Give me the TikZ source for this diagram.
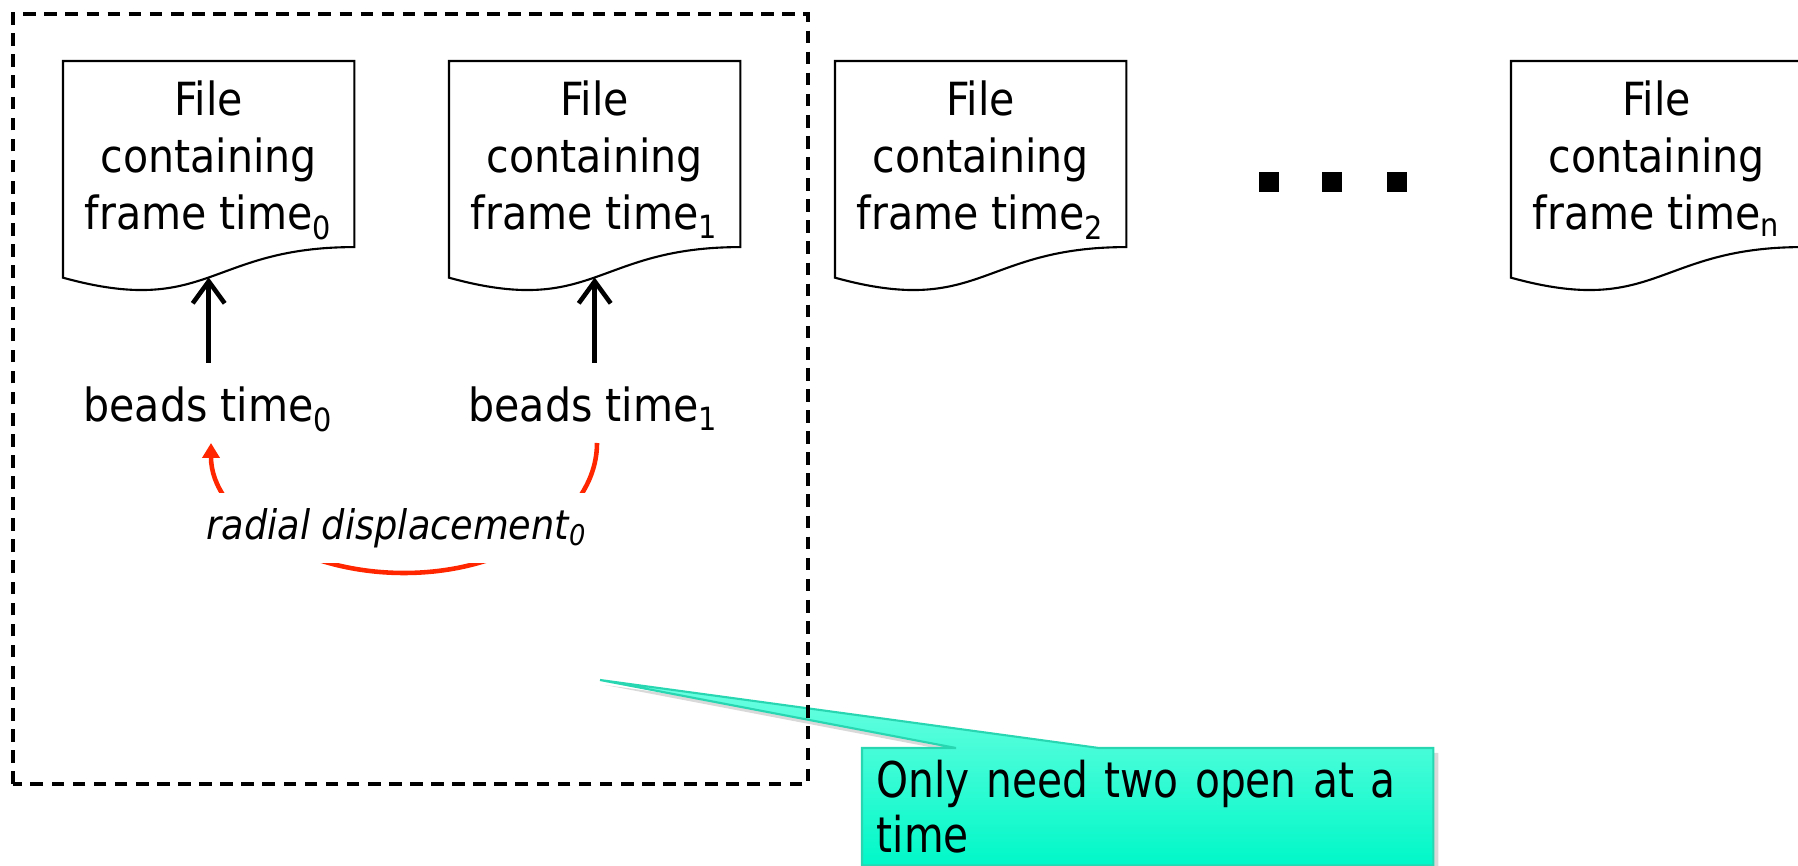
\documentclass[tikz,border=0pt]{standalone}
\usepackage{fontspec}
\setmainfont{DejaVu Sans Condensed}
\newfontfamily\notefont{DejaVu Sans Condensed}[FakeStretch=0.92]
\definecolor{noteaqua}{RGB}{0,248,200}
\definecolor{notelight}{RGB}{112,255,226}
\definecolor{noteedge}{RGB}{40,214,178}
\definecolor{dispred}{RGB}{255,38,0}
\usetikzlibrary{arrows.meta,positioning,calc,backgrounds,shadows}

\begin{document}
\begin{tikzpicture}[
    filebox/.style={anchor=north west, minimum width=2.90cm, inner ysep=0.19cm,
                    align=center, font=\fontsize{13}{16.3}\selectfont},
    fileedge/.style={draw=black, line width=0.6pt},
    beadtxt/.style={anchor=base, font=\fontsize{13}{16}\selectfont},
    feed/.style={line width=1.3pt, -{Straight Barb[length=2.2mm, width=3.2mm, line width=1.3pt]}},
    disp/.style={dispred, line width=1.3pt, -{Triangle[length=1.5mm, width=1.7mm]}},
    displabel/.style={fill=white, inner xsep=2pt, inner ysep=0.15cm,
                      font=\fontsize{11.6}{13}\selectfont\itshape},
    framedash/.style={line width=1pt, dash pattern=on 3.6pt off 2.4pt},
    notebox/.style={anchor=north west, minimum width=5.70cm, text width=5.42cm,
                    inner xsep=0.14cm, inner ysep=0.115cm, align=left,
                    font=\notefont\fontsize{14}{15.6}\selectfont}
  ]
    \useasboundingbox (0,0) rectangle (17.98,8.66);

    % Pair of frames that are kept open
    \draw[framedash] (0.13,0.82) rectangle (8.08,8.52);

    % Frame files
    \node[filebox] (f0) at (0.63,8.05)  {File\\containing\\frame time\textsubscript{0}};
    \node[filebox] (f1) at (4.49,8.05)  {File\\containing\\frame time\textsubscript{1}};
    \node[filebox] (f2) at (8.35,8.05)  {File\\containing\\frame time\textsubscript{2}};
    \node[filebox] (fn) at (15.11,8.05) {File\\containing\\frame time\textsubscript{n}};

    % Document outline with wavy bottom
    \foreach \f in {f0,f1,f2,fn}
      \draw[fileedge] (\f.north west) -- (\f.north east) -- ([yshift=-1.861cm]\f.north east)
        .. controls ([yshift=-1.861cm]\f.north) and ([yshift=-2.569cm]\f.north)
        .. ([yshift=-2.167cm]\f.north west) coordinate[pos=0.5] (\f-in) -- cycle;

    % Ellipsis between the files
    \foreach \x in {12.69,13.32,13.97}
      \fill (\x,6.84) +(-0.1,-0.1) rectangle +(0.1,0.1);

    % Beads written into the files
    \node[beadtxt] (b0) at (2.085,4.44) {beads time\textsubscript{0}};
    \node[beadtxt] (b1) at (5.935,4.44) {beads time\textsubscript{1}};
    \draw[feed] ([yshift=3.5pt]b0.north -| f0-in) -- (f0-in);
    \draw[feed] ([yshift=3.5pt]b1.north -| f1-in) -- (f1-in);

    % Displacement between the two time steps
    \draw[disp] ([shift={(0.035,-0.21)}]b1.base)
      arc[start angle=0, end angle=-180, x radius=1.93cm, y radius=1.30cm];
    \node[displabel] (dl) at (3.97,3.38) {radial displacement\textsubscript{0}};

    % Callout
    \node[notebox] (note) at (8.62,1.18) {Only need two open at a time};
    \coordinate (notetip) at (6.00,1.86);
    \begin{scope}[on background layer]
      \draw[noteedge, line width=0.6pt, top color=notelight, bottom color=noteaqua,
            drop shadow={shadow xshift=0.05cm, shadow yshift=-0.05cm, opacity=0.3}]
        (note.north west) -- ([xshift=0.94cm]note.north west) -- (notetip)
        -- ([xshift=2.37cm]note.north west) -- (note.north east)
        -- (note.south east) -- (note.south west) -- cycle;
    \end{scope}
\end{tikzpicture}
\end{document}
